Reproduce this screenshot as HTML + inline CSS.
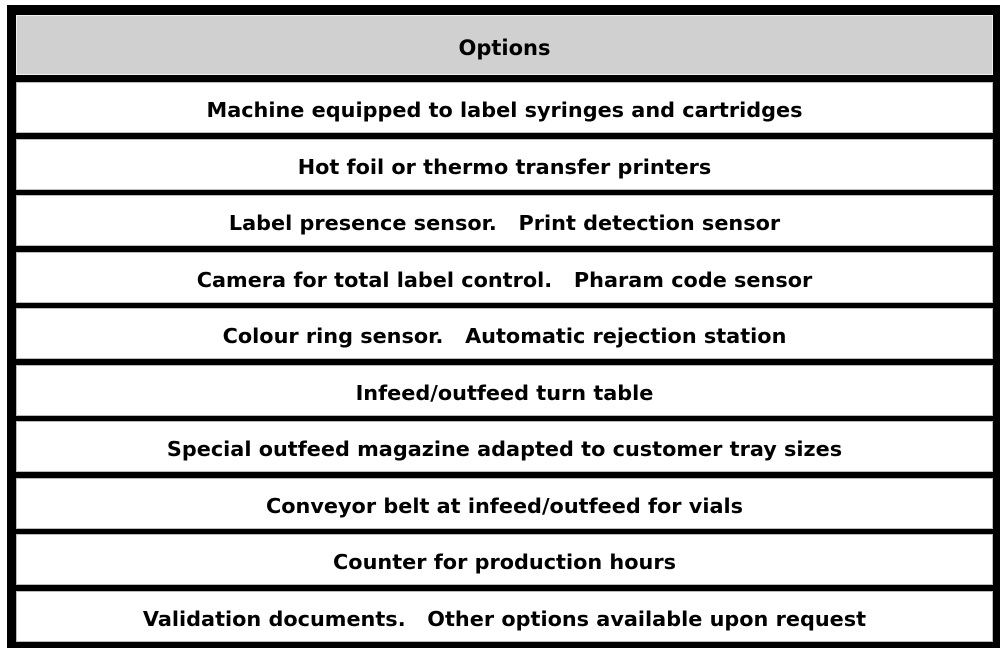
<!DOCTYPE html>
<html><head><style>
body{margin:0;width:1000px;height:648px;background:#fff;position:relative;overflow:hidden;font-family:"DejaVu Sans","Liberation Sans",sans-serif;font-weight:bold;}
.frame{position:absolute;left:7px;top:5px;width:993px;height:643px;background:#000;}
.r{position:absolute;left:16px;width:977px;background:#fff;display:flex;align-items:center;justify-content:center;font-size:20.8px;color:#000;box-sizing:border-box;border:1px solid #bbb;padding-top:5px;}
.h{background:#d0d0d0;border:1px solid #eee;font-size:21px;}
</style></head><body>
<div class="frame"></div>
<div class="r h" style="top:15px;height:60px;">Options</div>
<div class="r" style="top:82px;height:51px;">Machine equipped to label syringes and cartridges</div>
<div class="r" style="top:138.5px;height:51px;">Hot foil or thermo transfer printers</div>
<div class="r" style="top:195px;height:51px;">Label presence sensor.&nbsp;&nbsp; Print detection sensor</div>
<div class="r" style="top:251.5px;height:51px;">Camera for total label control.&nbsp;&nbsp; Pharam code sensor</div>
<div class="r" style="top:308px;height:51px;">Colour ring sensor.&nbsp;&nbsp; Automatic rejection station</div>
<div class="r" style="top:364.5px;height:51px;">Infeed/outfeed turn table</div>
<div class="r" style="top:421px;height:51px;">Special outfeed magazine adapted to customer tray sizes</div>
<div class="r" style="top:477.5px;height:51px;">Conveyor belt at infeed/outfeed for vials</div>
<div class="r" style="top:534px;height:51px;">Counter for production hours</div>
<div class="r" style="top:590.5px;height:51px;">Validation documents.&nbsp;&nbsp; Other options available upon request</div>
</body></html>
